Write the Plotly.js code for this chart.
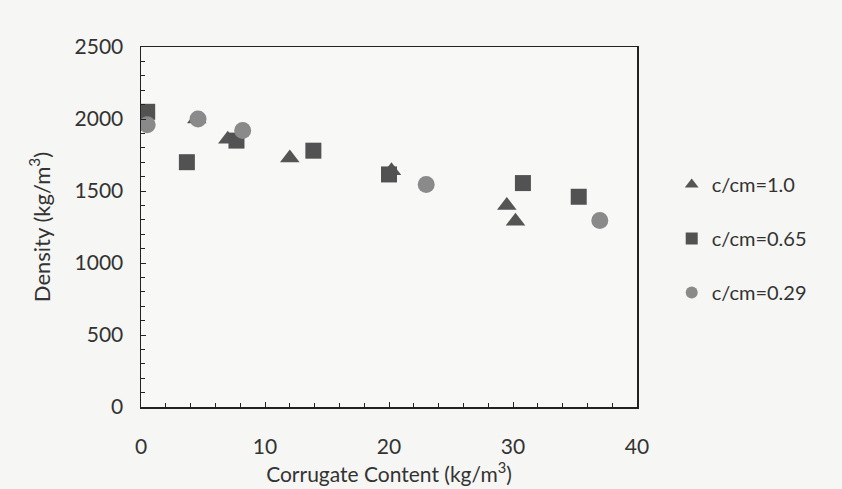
<!DOCTYPE html>
<html>
<head>
<meta charset="utf-8">
<script src="https://cdn.plot.ly/plotly-3.0.1.min.js"></script>
<style>html,body{margin:0;padding:0;background:#f6f6f4;}</style>
</head>
<body>
<div id="chart" style="width:842px;height:489px;"></div>
<script>
// c/cm = 1.0 (triangles)
const triX = [4.5, 7.0, 12.0, 20.2, 29.5, 30.2];
const triY = [2000, 1860, 1730, 1640, 1400, 1290];
// c/cm = 0.65 (squares)
const sqX = [0.5, 3.7, 7.7, 13.9, 20.0, 30.8, 35.3];
const sqY = [2050, 1700, 1850, 1780, 1615, 1555, 1460];
// c/cm = 0.29 (circles)
const cirX = [0.5, 4.6, 8.2, 23.0, 37.0];
const cirY = [1960, 2000, 1920, 1545, 1295];

const seriesNames = ['c/cm=1.0', 'c/cm=0.65', 'c/cm=0.29'];

const traces = [
  {x: triX, y: triY, name: seriesNames[0], mode: 'markers', type: 'scatter', legendgroup: 'a',
   marker: {symbol: 'triangle-up', size: 17, color: '#555555'}},
  {x: sqX, y: sqY, name: seriesNames[1], mode: 'markers', type: 'scatter', legendgroup: 'b',
   marker: {symbol: 'square', size: 16, color: '#525252'}},
  {x: cirX, y: cirY, name: seriesNames[2], mode: 'markers', type: 'scatter', legendgroup: 'c',
   marker: {symbol: 'circle', size: 17, color: '#8a8a8a'}}
];

const font = 'Lato, "Open Sans", sans-serif';

const layout = {
  width: 842, height: 489,
  paper_bgcolor: '#f6f6f4', plot_bgcolor: '#f8f8f7',
  margin: {l: 141, r: 205, t: 47, b: 82},
  font: {family: font, size: 20, color: '#333'},
  showlegend: true,
  legend: {x: 1.07, y: 0.672, yanchor: 'top', xanchor: 'left', bgcolor: 'rgba(0,0,0,0)',
           font: {family: font, size: 20, color: '#333'}, tracegroupgap: 25, itemwidth: 30,
           itemsizing: 'constant'},
  xaxis: {
    range: [0, 40], dtick: 10, tick0: 0,
    showline: true, linecolor: '#222', linewidth: 1.5, mirror: true,
    showgrid: false, zeroline: false,
    ticks: 'inside', ticklen: 5, tickcolor: '#222',
    minor: {dtick: 2, ticks: 'inside', ticklen: 4, tickcolor: '#222'},
    ticklabelstandoff: 20,
    tickfont: {family: font, size: 21, color: '#333'},
    title: {text: 'Corrugate Content (kg/m<sup>3</sup>)', standoff: 0, font: {family: font, size: 21, color: '#333'}}
  },
  yaxis: {
    range: [0, 2500], dtick: 500, tick0: 0,
    showline: true, linecolor: '#222', linewidth: 1.5, mirror: true,
    showgrid: false, zeroline: false,
    ticks: 'inside', ticklen: 5, tickcolor: '#222',
    minor: {dtick: 100, ticks: 'inside', ticklen: 4, tickcolor: '#222'},
    ticklabelstandoff: 12,
    tickfont: {family: font, size: 21, color: '#333'},
    title: {text: 'Density (kg/m<sup>3</sup>)', standoff: 18, font: {family: font, size: 22, color: '#333'}}
  }
};

Plotly.newPlot('chart', traces, layout, {displayModeBar: false, staticPlot: true});
</script>
</body>
</html>
